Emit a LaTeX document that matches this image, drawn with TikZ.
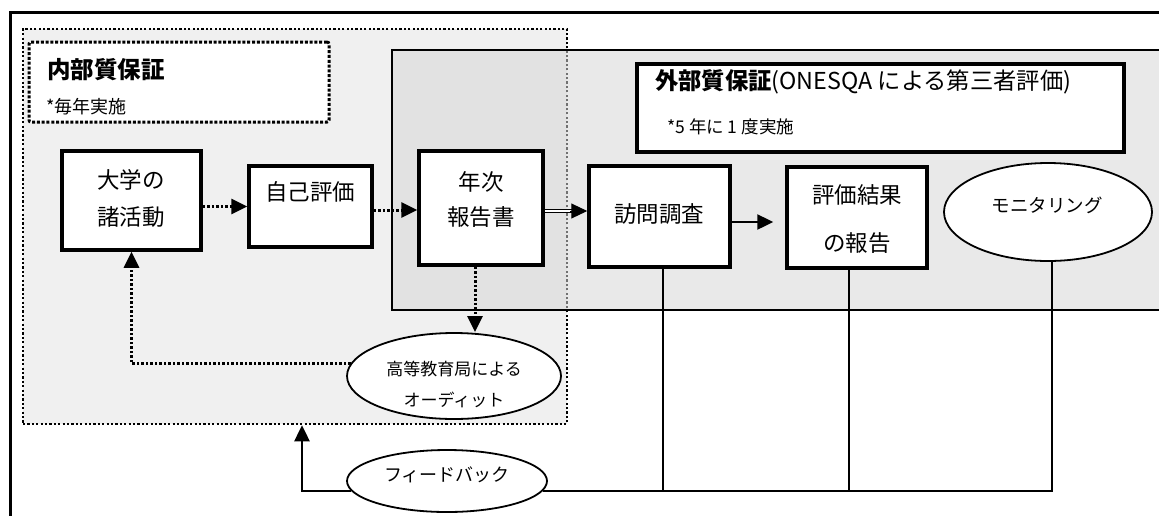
\documentclass[tikz,border=0pt]{standalone}
\usepackage{fontspec}
\setmainfont{Noto Sans CJK JP}
\usetikzlibrary{arrows.meta,shapes.geometric,calc}
\definecolor{innerfill}{RGB}{240,240,240}
\definecolor{extfill}{RGB}{214,214,214}
\begin{document}
\begin{tikzpicture}[x=1pt,y=-1pt,
  box/.style={draw, line width=3.5pt, fill=white, inner sep=0pt},
  oval/.style={draw, ellipse, line width=1.8pt, fill=white, inner sep=0pt},
  txt/.style={inner sep=0pt, font=\fontsize{22.5}{26}\selectfont},
  smalltxt/.style={inner sep=0pt, font=\fontsize{17}{20}\selectfont},
  dotline/.style={line width=3pt, dash pattern=on 2.5pt off 2pt},
  tipA/.style={-{Triangle[length=16pt,width=15pt]}},
  thinline/.style={line width=1.8pt},
]
\useasboundingbox (0,0) rectangle (1159,515);
\clip (0,0) rectangle (1159,515);

% outer frame
\draw[line width=3pt] (10,12) rectangle (1220,560);

% internal QA area
\node[fill=innerfill, draw, line width=2.5pt, dash pattern=on 2.2pt off 2.2pt,
      minimum width=544pt, minimum height=395pt, inner sep=0pt] (inner) at (295,226.5) {};
% external QA area (semi-transparent)
\node[fill=extfill, fill opacity=0.53, draw, draw opacity=1, line width=2.4pt,
      minimum width=828pt, minimum height=260pt, inner sep=0pt] (ext) at (806,180) {};

% title boxes
\node[fill=white, draw, line width=3pt, dash pattern=on 3pt off 1.8pt, rounded corners=2pt,
      minimum width=300pt, minimum height=80pt, inner sep=0pt] (ititle) at (179,82) {};
\node[anchor=west, inner sep=0pt, font=\fontsize{23.5}{26}\selectfont\bfseries] (itext) at (47,70) {内部質保証};
\node[anchor=west, inner sep=0pt, font=\fontsize{18}{20}\selectfont] (inote) at (46,107) {*毎年実施};

\node[box, minimum width=487pt, minimum height=88pt] (etitle) at (880.5,108) {};
\node[anchor=west, inner sep=0pt, font=\fontsize{23.3}{26}\selectfont] (etext) at (655,82) {\textbf{外部質保証}(ONESQA による第三者評価)};
\node[anchor=west, inner sep=0pt, font=\fontsize{17.5}{20}\selectfont] (enote) at (667,127) {*5 年に 1 度実施};

% process boxes
\node[box, minimum width=139pt, minimum height=99pt] (uni) at (131.5,200.5) {};
\node[txt] (uni1) at (131,180) {大学の};
\node[txt] (uni2) at (131,217) {諸活動};

\node[box, minimum width=123pt, minimum height=81pt] (self) at (310.5,206.5) {};
\node[txt] (self1) at (310,192) {自己評価};

\node[box, minimum width=124pt, minimum height=114pt] (annual) at (481,208) {};
\node[txt] (ann1) at (481,182) {年次};
\node[txt] (ann2) at (481,217) {報告書};

\node[box, minimum width=141pt, minimum height=101pt] (visit) at (659.5,216.5) {};
\node[txt] (visit1) at (659,214) {訪問調査};

\node[box, minimum width=140pt, minimum height=101pt] (result) at (857,217.5) {};
\node[txt] (res1) at (857,195) {評価結果};
\node[txt] (res2) at (857,243) {の報告};

\node[oval, minimum width=208pt, minimum height=98pt] (monitor) at (1048,212) {};
\node[inner sep=0pt, font=\fontsize{18.5}{20}\selectfont] (mon1) at (1047,205) {モニタリング};

\node[oval, minimum width=214pt, minimum height=86pt] (audit) at (454,376) {};
\node[smalltxt] (aud1) at (454,369) {高等教育局による};
\node[smalltxt] (aud2) at (454,400) {オーディット};

\node[oval, minimum width=200pt, minimum height=62pt] (fb) at (447,481) {};
\node[inner sep=0pt, font=\fontsize{18}{20}\selectfont] (fb1) at (447,475) {フィードバック};

% helper coordinates
\coordinate (x0) at (302,0);
\coordinate (x1) at (663,0);
\coordinate (x2) at (849,0);
\coordinate (x3) at (1052,0);
\coordinate (yb) at (0,491);

% arrows in the flow
\draw[dotline, tipA] (uni.east |- self.west) -- (self.west);
\draw[dotline, tipA] ([yshift=-3.5pt]self.east) -- ([yshift=-3.5pt]self.east -| annual.west);
\draw[line width=0.8pt, double, double distance=1.6pt, shorten >=14pt]
  ([yshift=-3pt]annual.east) -- ([yshift=-3pt]annual.east -| visit.west);
\draw[tipA, line width=1pt] ([yshift=-3pt, xshift=-17pt]annual.east -| visit.west) -- ([yshift=-3pt]annual.east -| visit.west);
\draw[line width=2.4pt, tipA, shorten >=12pt] ([yshift=-5.5pt]visit.east) -- ([yshift=-5.5pt]visit.east -| result.west);

% audit loop
\draw[dotline, tipA] ([xshift=-6pt]annual.south) -- ([xshift=-6pt]annual.south |- audit.north);
\draw[dotline, tipA] (audit.173) -| (uni.south);

% feedback lines
\draw[thinline] (x1 |- visit.south) -- (x1 |- yb);
\draw[thinline] (x2 |- result.south) -- (x2 |- yb);
\draw[thinline] (x3 |- monitor.south) -- (x3 |- yb) -- (fb.-6);
\draw[line width=2.5pt, tipA] (fb.186) -| (inner.south -| x0);
\end{tikzpicture}
\end{document}
